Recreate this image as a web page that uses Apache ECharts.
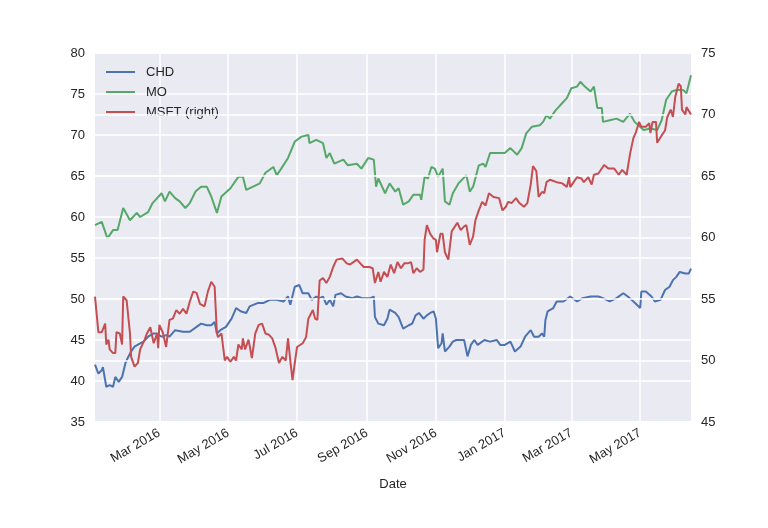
<!DOCTYPE html>
<html><head><meta charset="utf-8">
<script src="https://cdn.jsdelivr.net/npm/echarts@6/dist/echarts.min.js"></script>
<style>html,body{margin:0;padding:0;background:#fff}#c{width:768px;height:528px}</style>
</head><body><div id="c"></div>
<script>
const tickDates = ['2016-03-01','2016-05-01','2016-07-01','2016-09-01','2016-11-01','2017-01-01','2017-03-01','2017-05-01'];
const seriesNames = ['CHD','MO','MSFT (right)'];

const chdDates = [
'2016-01-04','2016-01-07','2016-01-10','2016-01-11','2016-01-14','2016-01-17','2016-01-20','2016-01-22','2016-01-25','2016-01-28','2016-01-31',
'2016-02-02','2016-02-05','2016-02-08','2016-02-13','2016-02-16','2016-02-20','2016-02-25','2016-02-28',
'2016-03-03','2016-03-07','2016-03-10','2016-03-15','2016-03-22','2016-03-28',
'2016-04-03','2016-04-07','2016-04-12','2016-04-16','2016-04-19','2016-04-21','2016-04-24','2016-04-29',
'2016-05-04','2016-05-08','2016-05-12','2016-05-17','2016-05-20','2016-05-27',
'2016-06-01','2016-06-07','2016-06-13','2016-06-19','2016-06-23','2016-06-25','2016-06-29',
'2016-07-03','2016-07-06','2016-07-11','2016-07-14','2016-07-18','2016-07-21','2016-07-24','2016-07-27','2016-07-30',
'2016-08-02','2016-08-04','2016-08-09','2016-08-13','2016-08-19','2016-08-23','2016-08-28',
'2016-09-04','2016-09-07','2016-09-08','2016-09-11','2016-09-16','2016-09-19','2016-09-21','2016-09-26','2016-09-29',
'2016-10-03','2016-10-08','2016-10-11','2016-10-14','2016-10-17','2016-10-21','2016-10-24','2016-10-27','2016-10-30',
'2016-11-01','2016-11-03','2016-11-06','2016-11-07','2016-11-09','2016-11-13','2016-11-16','2016-11-19','2016-11-23','2016-11-26','2016-11-29',
'2016-12-02','2016-12-05','2016-12-08','2016-12-14','2016-12-19','2016-12-25','2016-12-28',
'2017-01-01','2017-01-06','2017-01-10','2017-01-15','2017-01-19','2017-01-24','2017-01-27','2017-01-31',
'2017-02-03','2017-02-05','2017-02-06','2017-02-08','2017-02-13','2017-02-16','2017-02-22','2017-02-28',
'2017-03-06','2017-03-11','2017-03-18','2017-03-25','2017-03-29',
'2017-04-04','2017-04-10','2017-04-16','2017-04-20','2017-04-25',
'2017-05-01','2017-05-02','2017-05-06','2017-05-11','2017-05-14','2017-05-19','2017-05-23','2017-05-27','2017-05-30',
'2017-06-02','2017-06-05','2017-06-10','2017-06-13','2017-06-15'];
const chdValues = [
42.0,40.9,41.3,41.7,39.3,39.5,39.3,40.5,39.9,40.5,42.2,
42.8,43.6,44.2,44.6,44.8,45.4,45.8,45.8,
45.4,45.6,45.4,46.2,46.0,46.0,
46.6,47.0,46.8,46.8,47.2,45.8,46.2,46.6,
47.6,48.9,48.5,48.3,49.1,49.5,
49.5,49.9,49.9,49.7,50.3,49.3,51.5,
51.7,50.7,50.7,49.9,50.3,50.1,50.3,49.3,49.9,
49.1,50.5,50.7,50.3,50.1,50.3,50.1,
50.1,50.3,47.8,47.0,46.8,47.6,48.7,48.3,47.8,
46.4,46.8,47.0,48.0,48.3,47.6,48.0,48.3,48.5,
47.6,44.0,44.6,45.8,43.6,44.2,44.8,45.0,45.0,45.0,43.0,
44.4,45.0,44.4,45.0,44.8,45.0,44.4,
44.4,44.8,43.6,44.2,45.4,46.2,45.4,45.4,
45.8,45.4,47.4,48.5,48.9,49.7,49.7,50.3,
49.7,50.1,50.3,50.3,50.1,
49.7,50.1,50.7,50.3,49.7,
48.9,50.9,50.9,50.3,49.7,49.9,51.1,51.5,52.3,
52.7,53.3,53.1,53.1,53.7];

const moDates = [
'2016-01-04','2016-01-10','2016-01-15','2016-01-20','2016-01-24','2016-01-29',
'2016-02-04','2016-02-10','2016-02-13','2016-02-20','2016-02-24',
'2016-03-03','2016-03-06','2016-03-10','2016-03-15','2016-03-19','2016-03-24','2016-03-28',
'2016-04-02','2016-04-07','2016-04-12','2016-04-16','2016-04-21','2016-04-25',
'2016-05-03','2016-05-10','2016-05-14','2016-05-17','2016-05-23','2016-05-29',
'2016-06-03','2016-06-10','2016-06-13','2016-06-17','2016-06-23','2016-06-29',
'2016-07-05','2016-07-11','2016-07-12','2016-07-18','2016-07-24','2016-07-27','2016-07-30',
'2016-08-03','2016-08-11','2016-08-15','2016-08-23','2016-08-27',
'2016-09-02','2016-09-07','2016-09-09','2016-09-11','2016-09-17','2016-09-21','2016-09-26','2016-09-29',
'2016-10-03','2016-10-08','2016-10-12','2016-10-18','2016-10-19','2016-10-22','2016-10-25','2016-10-28','2016-10-31',
'2016-11-03','2016-11-07','2016-11-09','2016-11-13','2016-11-16','2016-11-21','2016-11-28',
'2016-12-01','2016-12-04','2016-12-09','2016-12-13','2016-12-15','2016-12-19','2016-12-25',
'2017-01-01','2017-01-06','2017-01-12','2017-01-16','2017-01-20','2017-01-25',
'2017-02-01','2017-02-04','2017-02-07','2017-02-10','2017-02-15','2017-02-21','2017-02-25',
'2017-03-01','2017-03-06','2017-03-09','2017-03-13','2017-03-18','2017-03-21','2017-03-24','2017-03-28','2017-03-29',
'2017-04-04','2017-04-10','2017-04-16','2017-04-22','2017-04-26',
'2017-05-04','2017-05-10','2017-05-16','2017-05-20','2017-05-24','2017-05-29',
'2017-06-02','2017-06-08','2017-06-11','2017-06-15'];
const moValues = [
59.0,59.4,57.4,58.4,58.4,61.1,
59.6,60.5,60.0,60.6,61.7,
62.9,61.9,63.1,62.3,61.9,61.1,61.7,
63.1,63.7,63.7,62.5,60.5,62.5,
63.5,64.9,64.9,63.3,63.7,64.1,
65.4,66.1,65.1,65.9,67.2,69.2,
69.8,70.0,69.0,69.4,69.0,67.2,67.8,
66.5,67.0,66.3,66.5,65.9,
67.2,67.0,63.7,64.7,62.9,64.1,63.1,63.5,
61.5,61.9,62.7,62.7,62.1,64.9,64.7,66.1,65.9,
64.9,65.9,61.9,61.5,62.9,64.1,65.1,
63.1,63.7,66.3,66.5,66.1,67.8,67.8,
67.8,68.4,67.6,68.4,70.2,71.0,
71.2,71.6,72.4,72.0,73.0,73.9,74.5,
75.7,75.9,76.5,75.9,75.3,75.9,73.3,73.3,71.6,
71.8,72.0,71.6,72.6,71.6,
70.6,70.8,70.6,71.8,74.3,75.3,
75.5,75.5,75.1,77.3];

const msftDates = [
'2016-01-04','2016-01-07','2016-01-10','2016-01-13','2016-01-14','2016-01-16','2016-01-17','2016-01-20','2016-01-22','2016-01-23','2016-01-26','2016-01-28','2016-01-29',
'2016-02-01','2016-02-04','2016-02-05','2016-02-08','2016-02-11','2016-02-13','2016-02-17','2016-02-19','2016-02-22','2016-02-25','2016-02-28','2016-02-29',
'2016-03-01','2016-03-04','2016-03-07','2016-03-10','2016-03-13','2016-03-16','2016-03-19','2016-03-22','2016-03-25','2016-03-28','2016-03-31',
'2016-04-03','2016-04-06','2016-04-10','2016-04-13','2016-04-16','2016-04-19','2016-04-21','2016-04-22','2016-04-25','2016-04-28','2016-04-30',
'2016-05-03','2016-05-06','2016-05-08','2016-05-10','2016-05-13','2016-05-14','2016-05-16','2016-05-19','2016-05-22','2016-05-25','2016-05-28','2016-05-31',
'2016-06-03','2016-06-06','2016-06-09','2016-06-12','2016-06-15','2016-06-18','2016-06-21','2016-06-23','2016-06-25','2016-06-27','2016-06-29',
'2016-07-01','2016-07-06','2016-07-09','2016-07-11','2016-07-15','2016-07-17','2016-07-19','2016-07-21','2016-07-24','2016-07-27','2016-07-30',
'2016-08-02','2016-08-05','2016-08-10','2016-08-14','2016-08-17','2016-08-23','2016-08-25','2016-08-29',
'2016-09-03','2016-09-06','2016-09-08','2016-09-11','2016-09-13','2016-09-16','2016-09-19','2016-09-22','2016-09-25','2016-09-28',
'2016-10-01','2016-10-04','2016-10-07','2016-10-10','2016-10-12','2016-10-15','2016-10-18','2016-10-21','2016-10-22','2016-10-24','2016-10-27','2016-10-30',
'2016-11-01','2016-11-02','2016-11-05','2016-11-07','2016-11-09','2016-11-12','2016-11-15','2016-11-20','2016-11-23','2016-11-26','2016-11-28',
'2016-12-01','2016-12-04','2016-12-06','2016-12-09','2016-12-12','2016-12-15','2016-12-18','2016-12-22','2016-12-27','2016-12-30',
'2017-01-02','2017-01-04','2017-01-07','2017-01-11','2017-01-14','2017-01-18','2017-01-21','2017-01-24','2017-01-26','2017-01-29','2017-01-31',
'2017-02-03','2017-02-05','2017-02-07','2017-02-10','2017-02-16','2017-02-21','2017-02-25','2017-02-27','2017-02-28',
'2017-03-03','2017-03-06','2017-03-10','2017-03-12','2017-03-16','2017-03-19','2017-03-21','2017-03-25','2017-03-30',
'2017-04-03','2017-04-08','2017-04-12','2017-04-15','2017-04-19','2017-04-22','2017-04-25','2017-04-27','2017-04-30',
'2017-05-02','2017-05-06','2017-05-09','2017-05-10','2017-05-12','2017-05-15','2017-05-16','2017-05-20','2017-05-23','2017-05-25','2017-05-28','2017-05-30',
'2017-06-01','2017-06-04','2017-06-06','2017-06-07','2017-06-10','2017-06-11','2017-06-15'];
const msftValues = [
55.2,52.3,52.3,53.0,51.3,51.7,50.9,50.6,50.6,52.3,52.2,51.3,55.2,
54.9,52.2,50.3,49.5,49.8,50.9,51.7,52.2,52.7,51.4,52.2,51.0,
52.9,52.3,51.1,53.3,53.4,54.1,53.8,54.2,53.8,54.8,55.6,
55.5,54.6,54.4,55.6,56.4,56.0,52.2,51.9,52.2,50.0,50.3,
49.9,50.3,50.0,51.3,50.9,51.8,50.9,51.7,50.2,52.2,52.9,53.0,
52.2,52.1,51.8,51.0,49.8,50.3,50.0,51.8,50.0,48.4,49.8,
51.1,51.4,51.9,53.4,54.1,53.4,53.3,56.5,56.7,56.3,56.8,
57.6,58.2,58.3,57.9,57.8,58.2,58.0,57.6,
57.6,57.5,56.3,57.2,56.4,57.2,56.8,57.8,57.1,58.0,
57.5,57.9,57.9,58.0,57.1,57.5,57.2,57.4,59.8,61.0,60.3,59.9,
59.8,58.8,60.3,60.3,58.8,58.2,60.5,61.2,60.6,60.9,61.0,
59.4,60.1,61.4,62.2,62.9,62.6,63.6,63.3,63.2,62.2,
62.5,62.9,62.8,63.2,62.8,62.5,62.8,64.3,65.8,65.4,63.3,
63.7,63.6,64.5,64.7,64.5,64.4,64.1,64.9,64.1,
64.5,64.9,64.8,64.5,64.9,64.3,65.1,65.2,65.9,
65.6,65.6,65.1,65.5,65.1,66.8,68.1,68.5,69.4,
69.0,69.0,69.3,68.5,69.4,69.4,67.7,68.3,68.7,69.8,70.4,69.8,
71.4,72.5,72.3,70.4,70.0,70.6,70.0];

const monthNames = ['Jan','Feb','Mar','Apr','May','Jun','Jul','Aug','Sep','Oct','Nov','Dec'];
function ts(s){const p=s.split('-').map(Number);return new Date(p[0],p[1]-1,p[2]).getTime();}
function pairs(d,v){return d.map((x,i)=>[ts(x),v[i]]);}
const tickValues = tickDates.map(ts);
const font = '"Liberation Sans", Arial, sans-serif';
const ink = '#262626';

const chart = echarts.init(document.getElementById('c'), null, {renderer:'canvas'});
chart.setOption({
  animation:false,
  backgroundColor:'#ffffff',
  textStyle:{fontFamily:font},
  grid:{left:95,right:77,top:53,bottom:106,show:true,backgroundColor:'#EAEAF2',borderWidth:0},
  legend:{
    orient:'vertical', left:101, top:60, padding:5, icon:'rect', itemWidth:29, itemHeight:2, itemGap:6, z:2,
    textStyle:{fontSize:13,lineHeight:14,color:ink,fontFamily:font,padding:[0,0,0,6]},
    data:seriesNames
  },
  xAxis:{
    type:'value', min:ts('2016-01-04'), max:ts('2017-06-15'), scale:true,
    name:'Date', nameLocation:'middle', nameGap:56,
    nameTextStyle:{color:ink,fontSize:13,fontFamily:font},
    axisLine:{show:false},
    axisTick:{show:false, customValues:tickValues},
    axisLabel:{customValues:tickValues, rotate:30, fontSize:13, color:ink, fontFamily:font, margin:10,
      formatter:function(v){const d=new Date(v);return monthNames[d.getMonth()]+' '+d.getFullYear();}},
    splitLine:{show:true,lineStyle:{color:'#ffffff',width:1.5}}
  },
  yAxis:[
    {type:'value',min:35,max:80,interval:5,position:'left',z:0,
     axisLine:{show:false},axisTick:{show:false},
     axisLabel:{color:ink,fontSize:13,fontFamily:font,margin:10},
     splitLine:{show:true,lineStyle:{color:'#ffffff',width:1.5}}},
    {type:'value',min:45,max:75,interval:5,position:'right',z:3,
     axisLine:{show:false},axisTick:{show:false},
     axisLabel:{color:ink,fontSize:13,fontFamily:font,margin:10},
     splitLine:{show:true,lineStyle:{color:'#ffffff',width:1.5}}}
  ],
  series:[
    {name:seriesNames[0],type:'line',yAxisIndex:0,z:2,symbol:'none',data:pairs(chdDates,chdValues),
     lineStyle:{color:'#4C72B0',width:2},itemStyle:{color:'#4C72B0'}},
    {name:seriesNames[1],type:'line',yAxisIndex:0,z:2,symbol:'none',data:pairs(moDates,moValues),
     lineStyle:{color:'#55A868',width:2},itemStyle:{color:'#55A868'}},
    {name:seriesNames[2],type:'line',yAxisIndex:1,z:4,symbol:'none',data:pairs(msftDates,msftValues),
     lineStyle:{color:'#C44E52',width:2},itemStyle:{color:'#C44E52'}}
  ]
});
</script></body></html>
